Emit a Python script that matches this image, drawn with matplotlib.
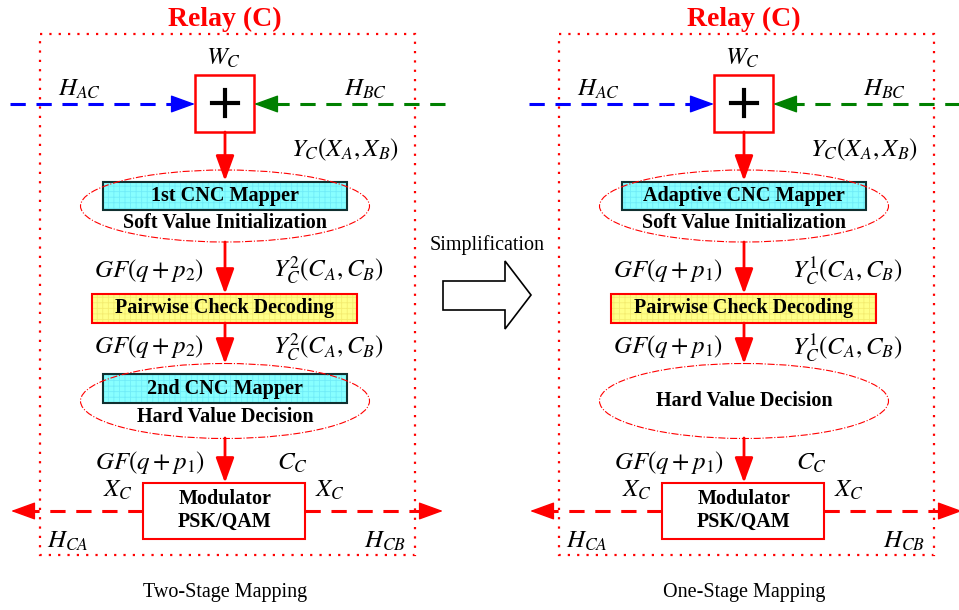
"""Two-stage vs one-stage CNC mapping at the relay."""
import matplotlib.pyplot as plt
from matplotlib.patches import Rectangle, Ellipse, Polygon

plt.rcParams["mathtext.fontset"] = "stix"
plt.rcParams["hatch.linewidth"] = 0.6
SERIF = "Liberation Serif"

# Panel contents
panel_offsets = [0, 519]
panel_titles = ["Two-Stage Mapping", "One-Stage Mapping"]
mapper1_labels = ["1st CNC Mapper", "Adaptive CNC Mapper"]
mapper2_labels = ["2nd CNC Mapper", None]
gf_labels = [
    [r"$GF\left(q+p_2\right)$", r"$GF\left(q+p_2\right)$", r"$GF\left(q+p_1\right)$"],
    [r"$GF\left(q+p_1\right)$", r"$GF\left(q+p_1\right)$", r"$GF\left(q+p_1\right)$"],
]
y_labels = [
    r"$Y_C^2\left(C_A,C_B\right)$",
    r"$Y_C^1\left(C_A,C_B\right)$",
]

fig = plt.figure(figsize=(9.59, 6.10), dpi=100)
ax = fig.add_axes([0, 0, 1, 1])
ax.set_xlim(0, 959)
ax.set_ylim(610, 0)
ax.axis("off")

HEAD = "-|>,head_length=0.55,head_width=0.2"


def math(x, y, s, size=18, ha="center"):
    ax.text(x, y, s, fontsize=size, ha=ha, va="center", color="black")


def bold(x, y, s, size=14.5):
    ax.text(x, y, s, fontsize=size, ha="center", va="center",
            family=SERIF, weight="bold", zorder=6)


def down_arrow(x, y0, y1):
    ax.annotate("", xy=(x, y1), xytext=(x, y0),
                arrowprops=dict(arrowstyle=HEAD, color="red", lw=2,
                                mutation_scale=28, shrinkA=0, shrinkB=0),
                zorder=5)


def dashed_arrow(x0, x1, y, color):
    # dashed shaft and a solid filled head at x1
    sign = 1 if x1 > x0 else -1
    ax.plot([x0, x1 - sign * 20], [y, y], color=color, lw=2.2,
            dashes=(5, 3.5), zorder=3, clip_on=False)
    ax.annotate("", xy=(x1, y), xytext=(x1 - sign * 22, y),
                annotation_clip=False,
                arrowprops=dict(arrowstyle=HEAD, color=color, lw=1,
                                mutation_scale=28, shrinkA=0, shrinkB=0),
                zorder=4)


def grid_box(x, y, w, h, face, grid, edge, lw):
    ax.add_patch(Rectangle((x, y), w, h, facecolor=face, edgecolor=grid,
                           hatch="+++", lw=0, zorder=2))
    ax.add_patch(Rectangle((x, y), w, h, fill=False, edgecolor=edge,
                           lw=lw, zorder=3))


for k, x0 in enumerate(panel_offsets):
    cx = x0 + 225

    # relay frame
    ax.text(cx, 19, "Relay (C)", fontsize=20, ha="center", va="center",
            family=SERIF, weight="bold", color="red")
    ax.add_patch(Rectangle((x0 + 40, 34), 375, 521, fill=False,
                           edgecolor="red", lw=1.6, linestyle=(0, (1, 3.2)),
                           zorder=1))

    # adder
    ax.add_patch(Rectangle((x0 + 195, 75), 59, 57, facecolor="white",
                           edgecolor="red", lw=1.8, zorder=3))
    ax.plot([cx - 13, cx + 13], [103, 103], color="black", lw=3, zorder=4)
    ax.plot([cx, cx], [90, 116], color="black", lw=3, zorder=4)
    math(cx - 2, 58, r"$W_C$")
    math(x0 + 80, 89, r"$H_{AC}$")
    math(x0 + 366, 89, r"$H_{BC}$")
    dashed_arrow(x0 + 10, x0 + 195, 104, "blue")
    dashed_arrow(x0 + 445, x0 + 254, 104, "green")

    # first mapper stage
    down_arrow(cx, 132, 181)
    math(x0 + 345, 150, r"$Y_C\left(X_A,X_B\right)$")
    grid_box(x0 + 103, 182, 244, 28, "#88ffff", "#70ecf8", "#103030", 1.5)
    ax.add_patch(Ellipse((cx, 206), 289, 72, fill=False, edgecolor="red",
                         lw=0.8, linestyle="-.", zorder=4))
    bold(cx, 196, mapper1_labels[k])
    bold(cx, 223, "Soft Value Initialization")

    # pairwise check decoding
    down_arrow(cx, 242, 294)
    math(x0 + 149, 270, gf_labels[k][0])
    math(x0 + 328, 270, y_labels[k])
    grid_box(x0 + 92, 294, 265, 29, "#ffff88", "#f4ec70", "red", 1.5)
    bold(cx, 308, "Pairwise Check Decoding")

    # second mapper / hard decision
    down_arrow(cx, 323, 364)
    math(x0 + 149, 347, gf_labels[k][1])
    math(x0 + 328, 347, y_labels[k])
    if mapper2_labels[k]:
        grid_box(x0 + 103, 374, 244, 29, "#88ffff", "#70ecf8", "#103030", 1.5)
        bold(cx, 389, mapper2_labels[k])
        bold(cx, 417, "Hard Value Decision")
    else:
        bold(cx, 401, "Hard Value Decision")
    ax.add_patch(Ellipse((cx, 401), 289, 75, fill=False, edgecolor="red",
                         lw=0.8, linestyle="-.", zorder=4))

    # modulator
    down_arrow(cx, 438, 483)
    math(x0 + 150, 463, gf_labels[k][2])
    math(x0 + 292, 463, r"$C_C$")
    math(x0 + 118, 490, r"$X_C$")
    math(x0 + 330, 490, r"$X_C$")
    ax.add_patch(Rectangle((x0 + 143, 483), 162, 56, facecolor="white",
                           edgecolor="red", lw=1.5, zorder=3))
    bold(cx, 499, "Modulator", size=14.5)
    bold(cx, 522, "PSK/QAM", size=14.5)
    dashed_arrow(x0 + 143, x0 + 11, 511, "red")
    dashed_arrow(x0 + 305, x0 + 443, 511, "red")
    math(x0 + 68, 541, r"$H_{CA}$")
    math(x0 + 385, 541, r"$H_{CB}$")

    ax.text(cx, 592, panel_titles[k], fontsize=14.5, ha="center",
            va="center", family=SERIF)

# simplification arrow between the panels
ax.text(487, 245, "Simplification", fontsize=14.5, ha="center", va="center",
        family=SERIF)
ax.add_patch(Polygon([(443, 281), (505, 281), (505, 261), (531, 295),
                      (505, 329), (505, 310), (443, 310)], closed=True,
                     facecolor="white", edgecolor="black", lw=1.2))

fig.savefig("out.png", dpi=100)
